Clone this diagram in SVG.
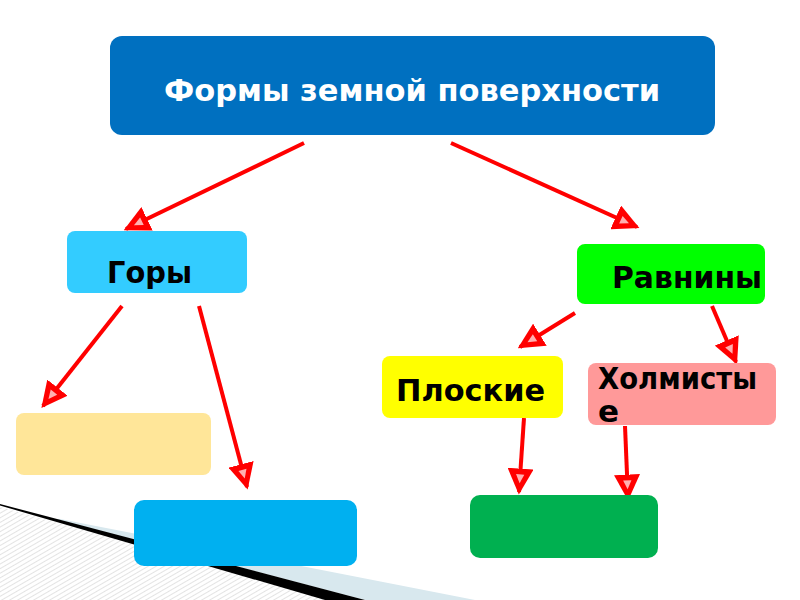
<svg xmlns="http://www.w3.org/2000/svg" width="800" height="600" viewBox="0 0 800 600">
<defs>
<style>
.lbl{font-family:"DejaVu Sans","Liberation Sans",sans-serif;font-weight:bold;fill:#000;font-size:31px}
.ttl{font-family:"DejaVu Sans","Liberation Sans",sans-serif;font-weight:bold;fill:#fff;font-size:30px}
.con{stroke:#FF0000;stroke-width:4;fill:none;marker-end:url(#ah)}
</style>
<marker id="ah" viewBox="0 0 10 10" refX="9" refY="5" markerWidth="6.5" markerHeight="6.5" orient="auto" markerUnits="strokeWidth">
<path d="M0,0 L10,5 L0,10 Z" fill="#FF0000"/>
<path d="M2.2,3.4 L5.6,5 L2.2,6.6 Z" fill="#FFB0B0"/>
</marker>
<pattern id="hatch" width="4" height="4" patternUnits="userSpaceOnUse" patternTransform="rotate(60)">
<rect width="4" height="4" fill="#FFFFFF"/>
<line x1="0" y1="0" x2="0" y2="4" stroke="#D0D0D0" stroke-width="1.2"/>
</pattern>
</defs>
<rect width="800" height="600" fill="#FFFFFF"/>
<g id="curl">
<polygon points="0,507 340,600 0,600" fill="url(#hatch)"/>
<polygon points="60,519 475,600 365,600 55,519" fill="#D8E8EE"/>
<polygon points="0,504 365,600 325,600 0,505.5" fill="#000000"/>
</g>
<g id="connectors">
<line class="con" x1="304" y1="143" x2="126" y2="229"/>
<line class="con" x1="451" y1="143" x2="637" y2="227"/>
<line class="con" x1="122" y1="306" x2="43" y2="406"/>
<line class="con" x1="199" y1="306" x2="247" y2="487"/>
<line class="con" x1="575" y1="313" x2="520" y2="347"/>
<line class="con" x1="712" y1="306" x2="736" y2="362"/>
<line class="con" x1="524" y1="418" x2="519" y2="492"/>
<line class="con" x1="625" y1="426" x2="628" y2="498"/>
</g>
<g id="title">
<rect x="110" y="36" width="605" height="99" rx="12" fill="#0070C0"/>
<text class="ttl" x="164" y="101" textLength="496" lengthAdjust="spacingAndGlyphs">Формы земной поверхности</text>
</g>
<g id="gory">
<rect x="67" y="231" width="180" height="62" rx="8" fill="#33CCFF"/>
<text class="lbl" x="107" y="283" textLength="85" lengthAdjust="spacingAndGlyphs">Горы</text>
</g>
<g id="ravniny">
<rect x="577" y="244" width="188" height="60" rx="8" fill="#00FF00"/>
<text class="lbl" x="612" y="288" textLength="150" lengthAdjust="spacingAndGlyphs">Равнины</text>
</g>
<g id="ploskie">
<rect x="382" y="356" width="181" height="62" rx="8" fill="#FFFF00"/>
<text class="lbl" x="396" y="401" textLength="149" lengthAdjust="spacingAndGlyphs">Плоские</text>
</g>
<g id="holmistye">
<rect x="588" y="363" width="188" height="62" rx="8" fill="#FF9999"/>
<text class="lbl" x="598" y="389" textLength="159" lengthAdjust="spacingAndGlyphs">Холмисты</text>
<text class="lbl" x="598" y="422">е</text>
</g>
<g id="empty1">
<rect x="16" y="413" width="195" height="62" rx="8" fill="#FFE699"/>
</g>
<g id="empty2">
<rect x="134" y="500" width="223" height="66" rx="10" fill="#00B0F0"/>
</g>
<g id="empty3">
<rect x="470" y="495" width="188" height="63" rx="10" fill="#00B050"/>
</g>
</svg>
